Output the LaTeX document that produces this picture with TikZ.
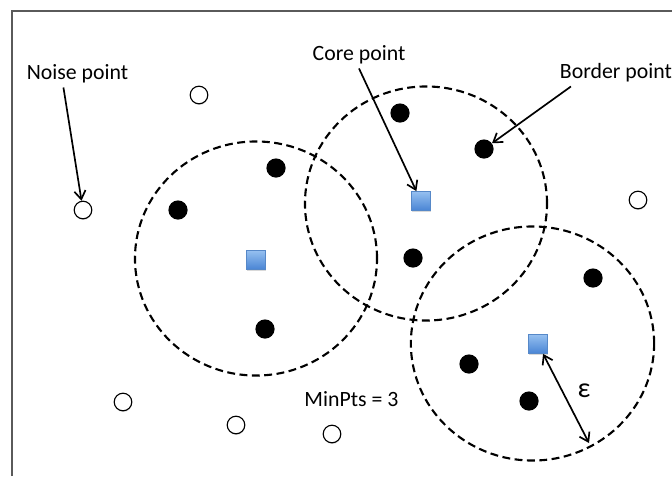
\documentclass[tikz,border=0pt]{standalone}
\usepackage{fontspec}
\setmainfont{Carlito}
\usepackage{xcolor}
\usepackage{tikz}
\usetikzlibrary{arrows.meta, shadows, calc}
\definecolor{coretop}{RGB}{150, 192, 240}
\definecolor{corebot}{RGB}{72, 132, 212}
\definecolor{coreline}{RGB}{86, 136, 200}
\definecolor{framegray}{RGB}{90, 90, 90}

\begin{document}
\begin{tikzpicture}[
    x=0.025cm, y=-0.025cm,
    zone/.style={dashed, dash pattern=on 5.6pt off 3.2pt, line width=1.5pt},
    core/.style={rectangle, draw=coreline, line width=0.4pt, top color=coretop, bottom color=corebot, minimum size=0.48cm, inner sep=0pt, drop shadow={shadow xshift=0.3pt, shadow yshift=-0.7pt, opacity=0.3}},
    dot/.style={circle, fill=black, minimum size=0.48cm, inner sep=0pt},
    noise/.style={circle, draw=black, line width=0.8pt, fill=white, minimum size=0.44cm, inner sep=0pt, drop shadow={shadow xshift=0.2pt, shadow yshift=-0.8pt, opacity=0.35}},
    txt/.style={font=\fontsize{15.5}{18}\selectfont, text=black},
    arr/.style={line width=1.2pt, -{Straight Barb[length=6pt, width=8pt]}}
]
\useasboundingbox (0,0) rectangle (672,476);
\draw[framegray, line width=0.8pt] (12,476) -- (12,11) -- (672,11);
\draw[zone] (256,258.5) ellipse [x radius=3.025cm, y radius=2.925cm];
\draw[zone] (426,203.5) ellipse [x radius=3.025cm, y radius=2.925cm];
\draw[zone] (532.5,343.5) ellipse [x radius=3.04cm, y radius=2.925cm];
\node[core] (c1) at (256,260) {};
\node[core] (c2) at (421,201) {};
\node[core] (c3) at (538,344) {};
\node[dot] (b1) at (276,168) {};
\node[dot] (b2) at (178,210) {};
\node[dot] (b3) at (265,329) {};
\node[dot] (b4) at (400,113) {};
\node[dot] (b5) at (484,149) {};
\node[dot] (b6) at (413,258) {};
\node[dot] (b7) at (593,278) {};
\node[dot] (b8) at (469,364) {};
\node[dot] (b9) at (529,401) {};
\node[noise] (n1) at (199,95) {};
\node[noise] (n2) at (83,210) {};
\node[noise] (n3) at (638,200) {};
\node[noise] (n4) at (123,402) {};
\node[noise] (n5) at (236,425) {};
\node[noise] (n6) at (332,434) {};
\node[txt, anchor=base] (noise) at (77.5,79) {Noise point};
\node[txt, anchor=base] (core) at (359,60) {Core point};
\node[txt, anchor=base west] (border) at (555,78) {Border point};
\node[txt, anchor=base] (minpts) at (351.5,406) {MinPts = 3};
\node[txt, font=\fontsize{20}{22}\selectfont] (eps) at (584,391) {ε};
\coordinate (rim) at (589,443);
\draw[arr] ([xshift=-10pt]noise.south) -- (n2);
\draw[arr] (core.south) -- (c2);
\draw[arr] ([xshift=-32pt]border.south) -- (b5);
\draw[arr, {Straight Barb[length=6pt, width=8pt]}-{Straight Barb[length=6pt, width=8pt]}] (c3) -- (rim);
\end{tikzpicture}
\end{document}
